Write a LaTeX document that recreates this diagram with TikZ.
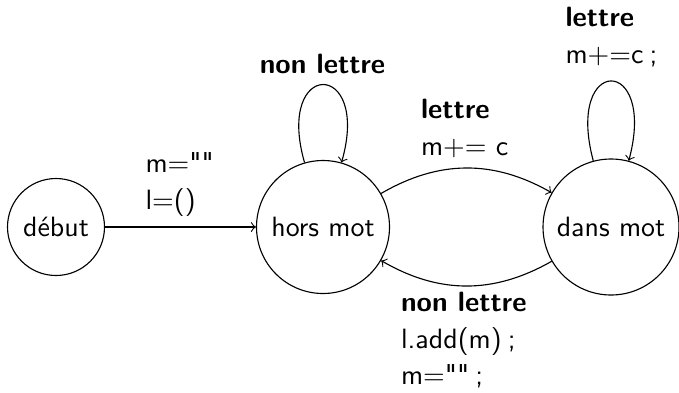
\documentclass[tikz,border=0pt]{standalone}
\begin{document}
\begin{tikzpicture}[x=0.3584pt,y=0.3584pt,
  state/.style={draw,circle,inner sep=0pt,font=\sffamily},
  lbl/.style={inner sep=0pt,anchor=base west,font=\sffamily},
  lblc/.style={inner sep=0pt,anchor=base,font=\sffamily},
  edge/.style={->}]
\useasboundingbox (0,0) rectangle (679,392);
\node[state,minimum size=97pt*0.3584] (debut) at (56,165) {début};
\node[state,minimum size=133pt*0.3584] (hors) at (323,165) {hors mot};
\node[state,minimum size=136pt*0.3584] (dans) at (611,165) {dans mot};
% start arrow
\draw[edge] (debut) -- (hors);
\node[lbl] (s1) at (145,219.7) {m$=$\textquotedbl\textquotedbl};
\node[lbl] (s2) at (145,183) {l$=$()};
% loop on hors mot
\draw[edge] (hors.106) .. controls +(106:108) and +(74:108) .. (hors.74);
\node[lblc] (h1) at (322.5,319) {\bfseries non lettre};
% hors -> dans
\draw[edge] (hors) to[bend left=30] (dans);
\node[lbl] (u1) at (420.5,274) {\bfseries lettre};
\node[lbl] (u2) at (420.5,237) {m${+}{=}$ c};
% loop on dans mot
\draw[edge] (dans.105) .. controls +(105:110) and +(75:110) .. (dans.75);
\node[lbl] (d1) at (565,365.3) {\bfseries lettre};
\node[lbl] (d2) at (565,328.7) {m${+}{=}$c\:;};
% dans -> hors
\draw[edge] (dans) to[bend left=30] (hors);
\node[lbl] (b1) at (400.5,80.3) {\bfseries non lettre};
\node[lbl] (b2) at (400.5,43.7) {l.add(m)\:;};
\node[lbl] (b3) at (400.5,7.7) {m$=$\textquotedbl\textquotedbl\:;};
\end{tikzpicture}
\end{document}
